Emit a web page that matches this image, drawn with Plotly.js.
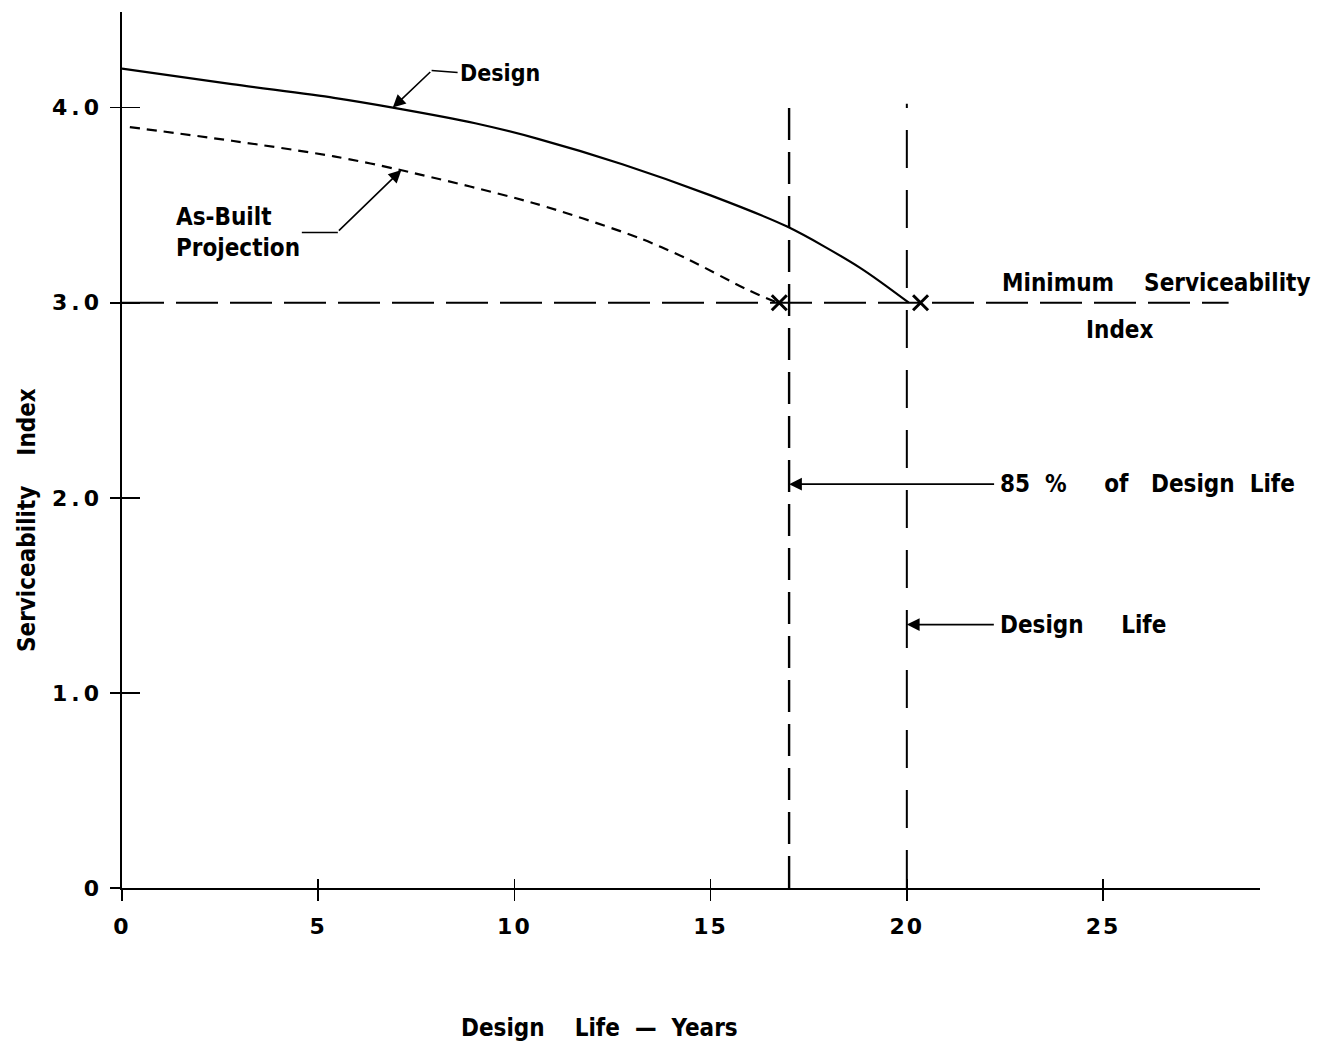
<!DOCTYPE html>
<html>
<head>
<meta charset="utf-8">
<script src="https://cdn.plot.ly/plotly-3.0.1.min.js"></script>
<style>
html,body{margin:0;padding:0;background:#fff;}
.ytick text { letter-spacing: 4px; }
.xtick text { letter-spacing: 2px; }
</style>
</head>
<body>
<div id="chart" style="width:1328px;height:1047px;"></div>
<script>
// ---- data ----
const designYears = [0, 2.8, 5.4, 6.9, 9.0, 10.6, 12.75, 15.0, 16.95, 18.8, 20.05];
const designSI    = [4.20, 4.12, 4.05, 4.00, 3.92, 3.84, 3.71, 3.55, 3.39, 3.18, 3.0];
const asBuiltYears = [0.2, 2.8, 5.4, 7.1, 10.5, 13.2, 14.45, 15.9, 16.7];
const asBuiltSI    = [3.90, 3.83, 3.75, 3.68, 3.51, 3.33, 3.22, 3.07, 3.0];
const minSI = 3.0;
const minLineYears = [0, 28.2];
const failYears = [16.75, 20.35];      // X marks where curves reach min SI
const designLife = 20;
const life85 = 17;
const vLineTop = [4.05, 4.02];
const xTickVals = [0, 5, 10, 15, 20, 25];
const xTickText = ['0', '5', '10', '15', '20', '25'];
const yTickVals = [0, 1, 2, 3, 4];
const yTickText = ['0', '1.0', '2.0', '3.0', '4.0'];

const FONT = 'DejaVu Sans Condensed, DejaVu Sans, sans-serif';
const NB = '\u00A0';
const sp = n => NB.repeat(n);

const traces = [
  { x: designYears, y: designSI, mode: 'lines', line: {color: '#000', width: 2.2, shape: 'spline', smoothing: 0.8}, hoverinfo: 'skip' },
  { x: asBuiltYears, y: asBuiltSI, mode: 'lines', line: {color: '#000', width: 2.2, dash: '10px,7px', shape: 'spline', smoothing: 0.8}, hoverinfo: 'skip' },
  { x: minLineYears, y: [minSI, minSI], mode: 'lines', line: {color: '#000', width: 2, dash: '42px,12px'}, hoverinfo: 'skip' },
  { x: [life85, life85], y: [0, vLineTop[0]], mode: 'lines', line: {color: '#000', width: 2.4, dash: '32px,12px'}, hoverinfo: 'skip' },
  { x: [designLife, designLife], y: [0, vLineTop[1]], mode: 'lines', line: {color: '#000', width: 2, dash: '38px,22px'}, hoverinfo: 'skip', xaxis: 'x2', yaxis: 'y2' },
  { x: failYears, y: [minSI, minSI], mode: 'markers', marker: {symbol: 'x-thin-open', size: 15, color: '#000', line: {color: '#000', width: 3}}, hoverinfo: 'skip' }
];

const arrowCommon = { showarrow: true, arrowcolor: '#000', arrowwidth: 1.6, axref: 'pixel', ayref: 'pixel' };
const labelFont = {family: FONT, size: 24, color: '#000', weight: 'bold'};

const annotations = [
  // Design arrow (diagonal part)
  Object.assign({ x: 6.9, y: 4.0, ax: 39, ay: -37, text: ' ', font: {size: 1}, arrowhead: 2, arrowsize: 1.6 }, arrowCommon),
  // Design label with leader
  Object.assign({ x: 7.89, y: 4.19, ax: 26, ay: 2, text: 'Design', xanchor: 'left', font: {family: FONT, size: 23, color: '#000', weight: 'bold'}, arrowhead: 0 }, arrowCommon),
  // As-Built arrow
  Object.assign({ x: 7.12, y: 3.68, ax: -64, ay: 62, text: ' ', font: {size: 1}, arrowhead: 2, arrowsize: 1.6 }, arrowCommon),
  Object.assign({ x: 5.5, y: 3.36, ax: -36, ay: 0, text: 'As-Built<br>Projection', xanchor: 'right', align: 'left', font: labelFont, arrowhead: 0 }, arrowCommon),
  // 85% arrow
  Object.assign({ x: life85, y: 2.07, ax: 209, ay: 0, text: '85' + sp(2) + '%' + sp(5) + 'of' + sp(3) + 'Design' + sp(2) + 'Life', xanchor: 'left', font: labelFont, arrowhead: 2, arrowsize: 1.6, startstandoff: 4 }, arrowCommon),
  // Design life arrow
  Object.assign({ x: designLife, y: 1.35, ax: 91, ay: 0, text: 'Design' + sp(5) + 'Life', xanchor: 'left', font: labelFont, arrowhead: 2, arrowsize: 1.6, startstandoff: 4 }, arrowCommon),
  // Minimum Serviceability Index
  { x: 26.34, y: 3.10, xref: 'x', yref: 'y', text: 'Minimum' + sp(4) + 'Serviceability', showarrow: false, font: labelFont, xanchor: 'center', yanchor: 'middle' },
  { x: 25.42, y: 2.86, xref: 'x', yref: 'y', text: 'Index', showarrow: false, font: labelFont, xanchor: 'center', yanchor: 'middle' },
  // axis titles
  { x: 0.42, y: -0.16, xref: 'paper', yref: 'paper', text: 'Design' + sp(4) + 'Life' + sp(2) + '\u2014' + sp(2) + 'Years', showarrow: false, font: labelFont, xanchor: 'center', yanchor: 'middle' },
  { x: -0.0835, y: 0.42, xref: 'paper', yref: 'paper', text: 'Serviceability' + sp(4) + 'Index', textangle: -90, showarrow: false, font: labelFont, xanchor: 'center', yanchor: 'middle' }
];

const tickFont = {family: 'DejaVu Sans, sans-serif', size: 22, color: '#000', weight: 'bold'};

const layout = {
  width: 1328, height: 1047,
  margin: {l: 122, r: 68, t: 12, b: 159},
  paper_bgcolor: '#fff', plot_bgcolor: '#fff',
  showlegend: false,
  xaxis: {
    range: [0, 29], showgrid: false, zeroline: false,
    showline: true, linecolor: '#000', linewidth: 1.6,
    tickmode: 'array', tickvals: xTickVals, ticktext: xTickText,
    ticks: 'outside', ticklen: 11, tickwidth: 1.6, tickcolor: '#000',
    tickfont: tickFont, ticklabelstandoff: 7
  },
  yaxis: {
    range: [0, 4.49], showgrid: false, zeroline: false,
    showline: true, linecolor: '#000', linewidth: 1.6,
    tickmode: 'array', tickvals: yTickVals, ticktext: yTickText,
    ticks: 'outside', ticklen: 10, tickwidth: 1.6, tickcolor: '#000',
    tickfont: tickFont, ticklabelstandoff: 3
  },
  xaxis2: {
    overlaying: 'x', matches: 'x', anchor: 'y2', showgrid: false, zeroline: false, showline: false,
    tickmode: 'array', tickvals: xTickVals, showticklabels: false,
    ticks: 'inside', ticklen: 9, tickwidth: 1.6, tickcolor: '#000', side: 'bottom'
  },
  yaxis2: {
    overlaying: 'y', matches: 'y', anchor: 'x2', showgrid: false, zeroline: false, showline: false,
    tickmode: 'array', tickvals: yTickVals, showticklabels: false,
    ticks: 'inside', ticklen: 18, tickwidth: 1.6, tickcolor: '#000', side: 'left'
  },
  annotations: annotations
};

Plotly.newPlot('chart', traces, layout, {staticPlot: true});
</script>
</body>
</html>
